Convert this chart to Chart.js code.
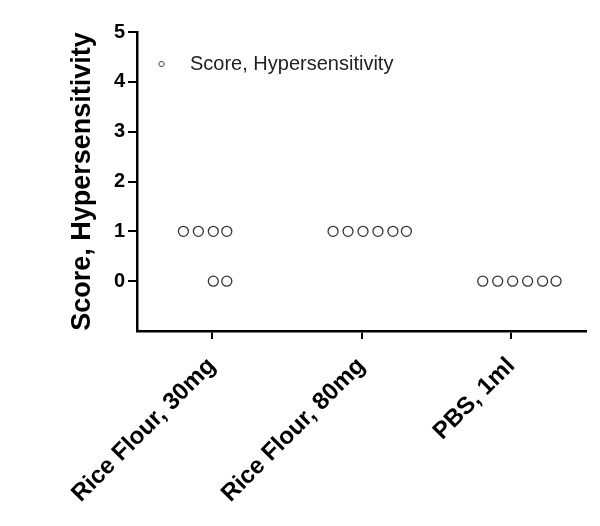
<!DOCTYPE html>
<html>
<head>
<meta charset="utf-8">
<script src="https://cdn.jsdelivr.net/npm/chart.js@4"></script>
<style>
  html, body { margin: 0; padding: 0; background: #fff; }
  #wrap { width: 600px; height: 526px; }
</style>
</head>
<body>
<div id="wrap"><canvas id="scatter"></canvas></div>
<script>
// groups along the x axis
const categories = ["Rice Flour, 30mg", "Rice Flour, 80mg", "PBS, 1ml"];
// hypersensitivity score of every animal, per group
const scores = [
  [1, 1, 1, 1, 0, 0],
  [1, 1, 1, 1, 1, 1],
  [0, 0, 0, 0, 0, 0]
];
// horizontal scatter of each point around its group (in group units)
const jitter = [
  [-0.19, -0.09, 0.01, 0.1, 0.01, 0.1],
  [-0.19, -0.09, 0.01, 0.11, 0.21, 0.3],
  [-0.19, -0.09, 0.01, 0.11, 0.21, 0.3]
];
const yTicks = [0, 1, 2, 3, 4, 5];
const seriesName = "Score, Hypersensitivity";

let points = [];
scores.forEach((grp, i) => {
  grp.forEach((s, j) => {
    points.push({x: i + jitter[i][j], y: s});
  });
});

const fontFam = "Arial, 'Liberation Sans', sans-serif";

// small marker for the legend
const mark = document.createElement("canvas");
mark.width = 8; mark.height = 8;
const mctx = mark.getContext("2d");
mctx.strokeStyle = "#444";
mctx.lineWidth = 1;
mctx.beginPath();
mctx.arc(4, 4, 2.6, 0, Math.PI * 2);
mctx.stroke();

new Chart("scatter", {
  type: "scatter",
  data: {
    datasets: [{
      label: seriesName,
      data: points,
      pointStyle: "circle",
      pointRadius: 5,
      pointHoverRadius: 5,
      borderWidth: 1.3,
      borderColor: "#333",
      backgroundColor: "rgba(0,0,0,0)"
    }]
  },
  options: {
    responsive: true,
    maintainAspectRatio: false,
    animation: false,
    layout: {padding: {top: 32, right: 14, bottom: 0, left: 0}},
    plugins: {
      tooltip: {enabled: false},
      legend: {
        position: "chartArea",
        align: "start",
        title: {display: true, text: "", padding: {top: 36, bottom: 0}, font: {size: 10}},
        labels: {
          usePointStyle: true,
          pointStyle: mark,
          pointStyleWidth: 37,
          padding: 6,
          color: "#222",
          font: {family: fontFam, size: 20}
        }
      }
    },
    scales: {
      x: {
        type: "linear",
        min: -0.5,
        max: 2.5,
        afterBuildTicks: s => { s.ticks = categories.map((c, i) => ({value: i})); },
        afterFit: s => { s.height = 195; },
        border: {color: "#000", width: 2.5},
        grid: {drawOnChartArea: false, color: "#000", lineWidth: 2, tickLength: 8},
        ticks: {
          minRotation: 45,
          maxRotation: 45,
          padding: 13,
          color: "#000",
          font: {family: fontFam, size: 24, weight: "bold"},
          callback: v => categories[v]
        }
      },
      y: {
        min: -1,
        max: 5,
        afterBuildTicks: s => { s.ticks = yTicks.map(v => ({value: v})); },
        afterFit: s => { s.width = 137; },
        border: {color: "#000", width: 2.5},
        grid: {drawOnChartArea: false, color: "#000", lineWidth: 2, tickLength: 9},
        ticks: {
          padding: 3,
          color: "#000",
          font: {family: fontFam, size: 20, weight: "bold"}
        },
        title: {
          display: true,
          text: seriesName,
          color: "#000",
          padding: {top: 66, bottom: 0},
          font: {family: fontFam, size: 27, weight: "bold"}
        }
      }
    }
  }
});
</script>
</body>
</html>
